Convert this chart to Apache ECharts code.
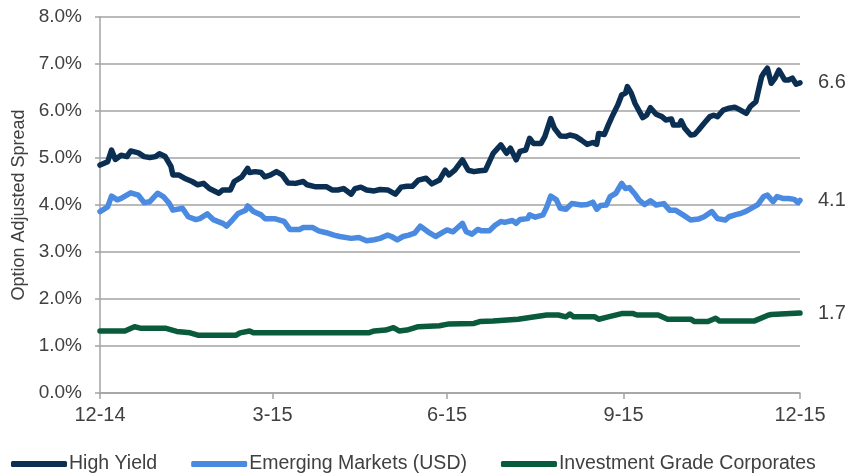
<!DOCTYPE html>
<html>
<head>
<meta charset="utf-8">
<script src="https://cdn.jsdelivr.net/npm/echarts@6/dist/echarts.min.js"></script>
<style>
  html, body { margin: 0; padding: 0; background: #ffffff; }
  #chart { width: 850px; height: 475px; }
</style>
</head>
<body>
<div id="chart"></div>
<script>
// Option-adjusted spreads (%), Dec 2014 – Dec 2015
const hyDates = ['2014-12-31','2015-01-04','2015-01-06','2015-01-08','2015-01-11','2015-01-14','2015-01-16','2015-01-20','2015-01-23','2015-01-26','2015-01-29','2015-01-31','2015-02-03','2015-02-06','2015-02-07','2015-02-10','2015-02-13','2015-02-17','2015-02-20','2015-02-23','2015-02-26','2015-03-03','2015-03-05','2015-03-09','2015-03-11','2015-03-15','2015-03-18','2015-03-19','2015-03-22','2015-03-25','2015-03-27','2015-03-30','2015-04-02','2015-04-05','2015-04-08','2015-04-12','2015-04-16','2015-04-18','2015-04-22','2015-04-26','2015-04-28','2015-05-01','2015-05-04','2015-05-07','2015-05-11','2015-05-13','2015-05-16','2015-05-19','2015-05-23','2015-05-26','2015-05-30','2015-06-03','2015-06-06','2015-06-09','2015-06-12','2015-06-15','2015-06-19','2015-06-22','2015-06-26','2015-06-29','2015-07-01','2015-07-04','2015-07-08','2015-07-11','2015-07-14','2015-07-17','2015-07-20','2015-07-24','2015-07-28','2015-07-31','2015-08-02','2015-08-05','2015-08-07','2015-08-10','2015-08-12','2015-08-14','2015-08-18','2015-08-20','2015-08-23','2015-08-25','2015-08-28','2015-08-31','2015-09-02','2015-09-05','2015-09-08','2015-09-11','2015-09-14','2015-09-16','2015-09-17','2015-09-20','2015-09-22','2015-09-24','2015-09-27','2015-09-29','2015-10-01','2015-10-02','2015-10-04','2015-10-06','2015-10-10','2015-10-12','2015-10-14','2015-10-17','2015-10-20','2015-10-22','2015-10-25','2015-10-26','2015-10-29','2015-10-30','2015-11-01','2015-11-04','2015-11-06','2015-11-08','2015-11-11','2015-11-14','2015-11-16','2015-11-18','2015-11-21','2015-11-24','2015-11-27','2015-11-29','2015-12-03','2015-12-05','2015-12-08','2015-12-09','2015-12-11','2015-12-12','2015-12-14','2015-12-16','2015-12-18','2015-12-20','2015-12-23','2015-12-25','2015-12-27','2015-12-29','2015-12-31'];
const hyValues = [4.85,4.92,5.17,4.97,5.06,5.03,5.15,5.11,5.03,5.01,5.03,5.09,5.03,4.82,4.64,4.64,4.57,4.50,4.43,4.46,4.35,4.25,4.32,4.32,4.50,4.60,4.78,4.69,4.71,4.69,4.60,4.64,4.71,4.64,4.47,4.46,4.50,4.43,4.39,4.39,4.39,4.32,4.32,4.35,4.23,4.35,4.38,4.32,4.30,4.33,4.32,4.23,4.38,4.40,4.40,4.53,4.57,4.45,4.53,4.74,4.64,4.74,4.96,4.74,4.71,4.73,4.74,5.10,5.28,5.10,5.21,4.96,5.14,5.17,5.42,5.31,5.31,5.46,5.84,5.63,5.47,5.46,5.49,5.46,5.38,5.29,5.33,5.29,5.52,5.50,5.70,5.88,6.13,6.34,6.38,6.52,6.38,6.16,5.86,5.91,6.07,5.93,5.88,5.81,5.83,5.70,5.70,5.79,5.63,5.49,5.50,5.59,5.74,5.88,5.91,5.88,6.02,6.06,6.08,6.04,5.95,6.09,6.20,6.38,6.73,6.80,6.91,6.59,6.70,6.87,6.66,6.66,6.70,6.57,6.6];

const emDates = ['2014-12-31','2015-01-04','2015-01-06','2015-01-09','2015-01-11','2015-01-16','2015-01-20','2015-01-23','2015-01-26','2015-01-30','2015-02-02','2015-02-05','2015-02-07','2015-02-12','2015-02-15','2015-02-19','2015-02-21','2015-02-25','2015-02-28','2015-03-05','2015-03-07','2015-03-10','2015-03-13','2015-03-17','2015-03-18','2015-03-21','2015-03-25','2015-03-27','2015-04-01','2015-04-06','2015-04-09','2015-04-14','2015-04-16','2015-04-21','2015-04-24','2015-04-28','2015-05-02','2015-05-05','2015-05-11','2015-05-15','2015-05-19','2015-05-23','2015-05-26','2015-05-30','2015-06-01','2015-06-04','2015-06-07','2015-06-10','2015-06-13','2015-06-16','2015-06-20','2015-06-24','2015-06-27','2015-06-30','2015-07-03','2015-07-05','2015-07-08','2015-07-10','2015-07-13','2015-07-16','2015-07-18','2015-07-22','2015-07-25','2015-07-28','2015-07-30','2015-08-03','2015-08-05','2015-08-07','2015-08-11','2015-08-12','2015-08-15','2015-08-19','2015-08-21','2015-08-23','2015-08-26','2015-08-28','2015-08-31','2015-09-03','2015-09-08','2015-09-11','2015-09-14','2015-09-16','2015-09-18','2015-09-21','2015-09-23','2015-09-26','2015-09-29','2015-10-01','2015-10-03','2015-10-06','2015-10-08','2015-10-11','2015-10-14','2015-10-17','2015-10-21','2015-10-24','2015-10-27','2015-10-31','2015-11-04','2015-11-08','2015-11-11','2015-11-15','2015-11-18','2015-11-22','2015-11-24','2015-11-28','2015-11-30','2015-12-03','2015-12-06','2015-12-09','2015-12-12','2015-12-14','2015-12-17','2015-12-19','2015-12-22','2015-12-25','2015-12-28','2015-12-30','2015-12-31'];
const emValues = [3.86,3.96,4.19,4.11,4.14,4.26,4.21,4.05,4.07,4.25,4.18,4.04,3.89,3.93,3.75,3.69,3.71,3.81,3.69,3.61,3.55,3.68,3.82,3.89,3.98,3.86,3.79,3.71,3.71,3.65,3.48,3.48,3.52,3.52,3.45,3.41,3.36,3.33,3.29,3.31,3.24,3.26,3.29,3.36,3.33,3.26,3.33,3.36,3.40,3.55,3.43,3.33,3.40,3.47,3.43,3.50,3.61,3.43,3.38,3.48,3.45,3.45,3.57,3.65,3.63,3.67,3.61,3.69,3.71,3.79,3.74,3.79,3.96,4.19,4.11,3.93,3.91,4.03,4.00,4.01,4.06,3.91,3.99,4.00,4.18,4.25,4.46,4.35,4.37,4.23,4.11,4.01,4.09,4.00,4.03,3.89,3.89,3.79,3.68,3.70,3.75,3.86,3.71,3.68,3.75,3.80,3.82,3.87,3.94,4.01,4.18,4.21,4.07,4.18,4.14,4.14,4.12,4.05,4.1];

const igDates = ['2014-12-31','2015-01-13','2015-01-18','2015-01-21','2015-02-03','2015-02-09','2015-02-16','2015-02-20','2015-03-12','2015-03-14','2015-03-19','2015-03-21','2015-05-20','2015-05-23','2015-05-29','2015-06-02','2015-06-05','2015-06-09','2015-06-15','2015-06-26','2015-07-01','2015-07-14','2015-07-17','2015-07-24','2015-08-06','2015-08-13','2015-08-21','2015-08-27','2015-08-31','2015-09-02','2015-09-04','2015-09-15','2015-09-17','2015-09-22','2015-09-29','2015-10-05','2015-10-07','2015-10-18','2015-10-23','2015-11-04','2015-11-06','2015-11-13','2015-11-17','2015-11-19','2015-12-07','2015-12-14','2015-12-16','2015-12-31'];
const igValues = [1.32,1.32,1.41,1.38,1.38,1.31,1.28,1.23,1.23,1.28,1.32,1.28,1.28,1.32,1.34,1.39,1.32,1.34,1.41,1.43,1.47,1.48,1.52,1.53,1.57,1.61,1.66,1.66,1.62,1.68,1.62,1.62,1.57,1.62,1.69,1.69,1.66,1.66,1.57,1.57,1.52,1.52,1.59,1.53,1.53,1.65,1.67,1.7];

// Quarter-end ticks on the date axis
const quarterDates = ['2014-12-31','2015-03-31','2015-06-30','2015-09-30','2015-12-31'];
const quarterLabels = ['12-14','3-15','6-15','9-15','12-15'];

const seriesNames = ['High Yield', 'Emerging Markets (USD)', 'Investment Grade Corporates'];
const seriesColors = ['#0b2f52', '#4a8ae0', '#0a5a3c'];

const DAY = 86400000;
const origin = Date.parse(quarterDates[0]);
const dayOf = d => Math.round((Date.parse(d) - origin) / DAY);
const pairs = (dates, values) => dates.map((d, i) => [dayOf(d), values[i]]);

const quarterDays = quarterDates.map(dayOf);
const labelByDay = {};
quarterDays.forEach((d, i) => { labelByDay[d] = quarterLabels[i]; });

const textColor = '#404040';
const gridColor = '#a3a3a3';
const fontFamily = '"Liberation Sans", Arial, sans-serif';

function lineSeries(idx, data) {
  return {
    name: seriesNames[idx],
    type: 'line',
    data: data,
    showSymbol: false,
    symbol: 'none',
    smooth: false,
    animation: false,
    lineStyle: { color: seriesColors[idx], width: 5.5, cap: 'round', join: 'round' },
    itemStyle: { color: seriesColors[idx] },
    endLabel: {
      show: true,
      distance: 18,
      color: textColor,
      fontSize: 20,
      fontFamily: fontFamily,
      formatter: p => p.value[1].toFixed(1)
    },
    z: 3 - idx + 2
  };
}

const chart = echarts.init(document.getElementById('chart'), null, { renderer: 'canvas' });
chart.setOption({
  backgroundColor: '#ffffff',
  animation: false,
  textStyle: { fontFamily: fontFamily, color: textColor },
  grid: { left: 100, right: 50, top: 17, bottom: 82, containLabel: false },
  legend: {
    data: seriesNames,
    left: 6,
    top: 449,
    itemWidth: 56,
    itemHeight: 6,
    itemGap: 34,
    icon: 'roundRect',
    textStyle: { color: textColor, fontSize: 19.5, fontFamily: fontFamily, padding: [0, 0, 0, -3] }
  },
  xAxis: {
    type: 'value',
    min: quarterDays[0],
    max: quarterDays[quarterDays.length - 1],
    axisLine: { show: true, lineStyle: { color: gridColor, width: 1.5 } },
    axisTick: {
      show: true,
      length: 6,
      inside: false,
      customValues: quarterDays,
      lineStyle: { color: gridColor, width: 1.5 }
    },
    axisLabel: {
      customValues: quarterDays,
      margin: 12,
      fontSize: 20,
      color: textColor,
      fontFamily: fontFamily,
      formatter: v => labelByDay[Math.round(v)] || ''
    },
    splitLine: { show: false }
  },
  yAxis: {
    type: 'value',
    min: 0,
    max: 8,
    interval: 1,
    name: 'Option Adjusted Spread',
    nameLocation: 'middle',
    nameGap: 72,
    nameRotate: 90,
    nameTextStyle: { fontSize: 18, color: textColor, fontFamily: fontFamily },
    axisLine: { show: true, lineStyle: { color: gridColor, width: 1.5 } },
    axisTick: { show: true, length: 5, inside: false, lineStyle: { color: gridColor, width: 1.5 } },
    axisLabel: {
      margin: 18,
      fontSize: 19,
      color: textColor,
      fontFamily: fontFamily,
      formatter: v => v.toFixed(1) + '%'
    },
    splitLine: { show: true, lineStyle: { color: gridColor, width: 1.5 } }
  },
  series: [
    lineSeries(2, pairs(igDates, igValues)),
    lineSeries(1, pairs(emDates, emValues)),
    lineSeries(0, pairs(hyDates, hyValues))
  ]
});
</script>
</body>
</html>
